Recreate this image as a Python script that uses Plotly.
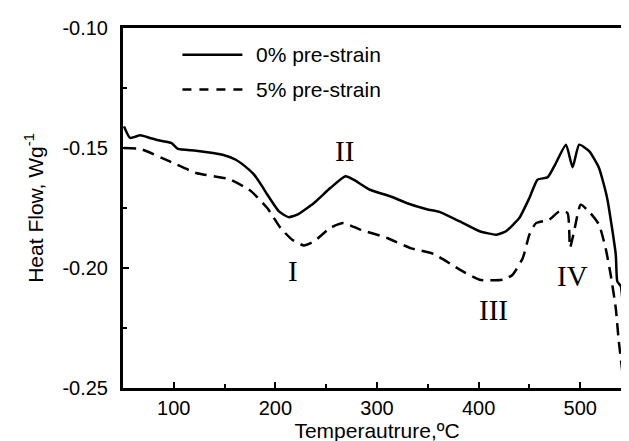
import plotly.graph_objects as go

# ---- data ----
temp_0 = [51, 57, 67, 76.5, 86, 97.5, 104, 122, 148, 161, 174, 179, 187, 192, 203.5, 213, 221.5,
          238, 254, 269, 277, 293, 313, 329, 349, 362, 381.5, 401, 417.5, 427, 440, 450, 458,
          468, 474.5, 486, 492.5, 499, 509, 518.5, 526.5, 535, 536.5, 540, 543, 545.5]
flow_0 = [-0.1410, -0.1458, -0.1447, -0.1458, -0.1469, -0.1479, -0.1504, -0.1511, -0.1528,
          -0.1549, -0.1590, -0.1611, -0.1660, -0.1694, -0.1764, -0.1788, -0.1778, -0.1729,
          -0.1667, -0.1618, -0.1632, -0.1674, -0.1701, -0.1729, -0.1755, -0.1767, -0.1806,
          -0.1847, -0.1861, -0.1847, -0.1792, -0.1708, -0.1632, -0.1622, -0.1576, -0.1486,
          -0.1580, -0.1486, -0.1514, -0.1583, -0.1708, -0.1944, -0.2056, -0.2076, -0.2222,
          -0.2389]

temp_5 = [51, 67, 96, 122, 154.5, 175.5, 192, 205, 216.5, 228, 238, 254, 267, 283.5, 310, 333,
          356, 381.5, 401, 424, 433.5, 443.5, 450, 456.5, 469.5, 479.5, 487.5, 490, 494, 500.5,
          510, 518.5, 525, 530, 535, 538, 543]
flow_5 = [-0.1500, -0.1504, -0.1556, -0.1604, -0.1630, -0.1678, -0.1750, -0.1833, -0.1882,
          -0.1906, -0.1889, -0.1833, -0.1813, -0.1840, -0.1875, -0.1917, -0.1942, -0.2007,
          -0.2049, -0.2049, -0.2028, -0.1958, -0.1861, -0.1813, -0.1799, -0.1764, -0.1771,
          -0.1915, -0.1847, -0.1736, -0.1771, -0.1819, -0.1917, -0.2028, -0.2167, -0.2306,
          -0.2486]

series_names = ["0% pre-strain", "5% pre-strain"]
peak_labels = ["I", "II", "III", "IV"]
peak_x = [217, 268, 415, 492]
peak_y = [-0.2014, -0.1514, -0.2174, -0.2035]

x_tick_vals = [100, 200, 300, 400, 500]
x_tick_text = ["100", "200", "300", "400", "500"]
y_tick_vals = [-0.25, -0.20, -0.15, -0.10]
y_tick_text = ["-0.25", "-0.20", "-0.15", "-0.10"]

fig = go.Figure()
fig.add_trace(go.Scatter(x=temp_0, y=flow_0, mode="lines", name=series_names[0],
                         line=dict(color="black", width=2.5, shape="spline", smoothing=0.5),
                         showlegend=False))
fig.add_trace(go.Scatter(x=temp_5, y=flow_5, mode="lines", name=series_names[1],
                         line=dict(color="black", width=2.5, dash="12px,7px", shape="spline", smoothing=0.5),
                         showlegend=False))

for lab, px, py in zip(peak_labels, peak_x, peak_y):
    fig.add_annotation(x=px, y=py, text=lab, showarrow=False,
                       font=dict(family="Liberation Serif", size=29, color="black"))

# manual legend (paper coordinates)
leg_y = [0.926, 0.829]
leg_dash = ["solid", "9px,8px"]
for name, ly, dsh in zip(series_names, leg_y, leg_dash):
    fig.add_shape(type="line", xref="paper", yref="paper", x0=0.117, x1=0.235, y0=ly, y1=ly,
                  line=dict(color="black", width=2.5, dash=dsh))
    fig.add_annotation(xref="paper", yref="paper", x=0.258, y=ly, text=name, showarrow=False,
                       xanchor="left", yanchor="middle",
                       font=dict(family="Liberation Sans", size=21, color="black"))

fig.update_layout(
    width=629, height=441,
    margin=dict(l=115, r=3, t=20, b=61),
    paper_bgcolor="white", plot_bgcolor="white",
    font=dict(family="Liberation Sans", color="black", size=20),
    showlegend=False,
)
fig.update_xaxes(
    range=[50, 550], tickvals=x_tick_vals, ticktext=x_tick_text, ticks="inside", ticklen=6, tickwidth=2,
    tickcolor="black", showline=True, linecolor="black", linewidth=3, mirror=True,
    showgrid=False, zeroline=False, tickfont=dict(size=20),
    minor=dict(dtick=50, tick0=50, ticks="inside", ticklen=4, tickwidth=2, tickcolor="black", showgrid=False),
    title=dict(text="Temperautrure,ºC", font=dict(size=21), standoff=3),
)
fig.update_yaxes(
    range=[-0.25, -0.10], tickvals=y_tick_vals, ticktext=y_tick_text, ticks="inside", ticklen=6,
    tickwidth=2, tickcolor="black", showline=True, linecolor="black", linewidth=3, mirror=True,
    showgrid=False, zeroline=False, tickfont=dict(size=20), ticklabelstandoff=8,
    minor=dict(dtick=0.025, tick0=-0.25, ticks="inside", ticklen=4, tickwidth=2, tickcolor="black", showgrid=False),
    title=dict(text="Heat Flow, Wg<sup>-1</sup>", font=dict(size=21), standoff=14),
)

fig.write_html("out.html")
